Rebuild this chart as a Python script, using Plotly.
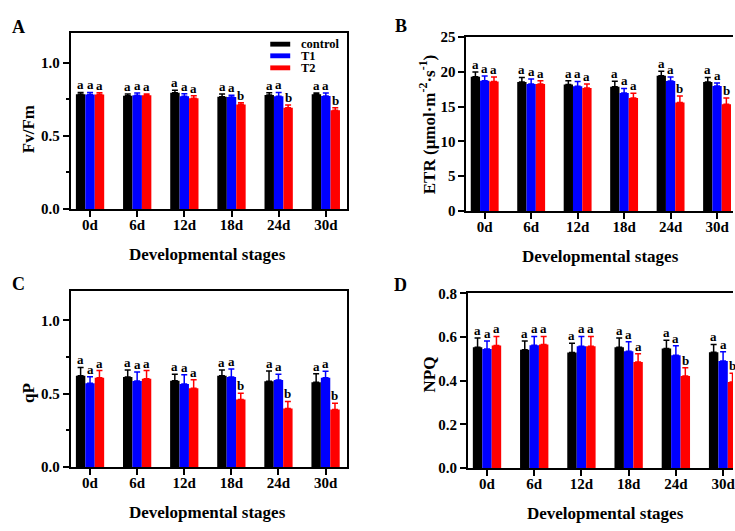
import plotly.graph_objects as go

# ---------------- data ----------------
stages = ["0d", "6d", "12d", "18d", "24d", "30d"]
groups = ["control", "T1", "T2"]
colors = ["#000000", "#0000FF", "#FF0000"]

fvfm_control = [0.783, 0.774, 0.794, 0.767, 0.778, 0.783]
fvfm_control_sd = [0.013, 0.011, 0.016, 0.018, 0.016, 0.009]
fvfm_t1 = [0.782, 0.776, 0.770, 0.765, 0.770, 0.772]
fvfm_t1_sd = [0.014, 0.016, 0.017, 0.011, 0.026, 0.020]
fvfm_t2 = [0.781, 0.776, 0.756, 0.714, 0.692, 0.674]
fvfm_t2_sd = [0.012, 0.010, 0.018, 0.011, 0.018, 0.018]
fvfm_letters = [["a"] * 6, ["a"] * 6, ["a", "a", "a", "b", "b", "b"]]

etr_control = [19.30, 18.55, 18.17, 17.85, 19.45, 18.55]
etr_control_sd = [0.70, 0.65, 0.56, 0.80, 0.65, 0.65]
etr_t1 = [18.73, 18.26, 17.93, 16.96, 18.68, 17.98]
etr_t1_sd = [0.67, 0.70, 0.70, 0.65, 0.60, 0.42]
etr_t2 = [18.60, 18.26, 17.70, 16.26, 15.61, 15.34]
etr_t2_sd = [0.66, 0.47, 0.56, 0.65, 0.93, 0.92]
etr_letters = [["a"] * 6, ["a"] * 6, ["a", "a", "a", "a", "b", "b"]]

qp_control = [0.622, 0.613, 0.588, 0.622, 0.584, 0.577]
qp_control_sd = [0.057, 0.048, 0.044, 0.039, 0.071, 0.058]
qp_t1 = [0.571, 0.586, 0.566, 0.613, 0.593, 0.608]
qp_t1_sd = [0.044, 0.062, 0.062, 0.055, 0.039, 0.044]
qp_t2 = [0.608, 0.602, 0.536, 0.460, 0.399, 0.392]
qp_t2_sd = [0.049, 0.055, 0.059, 0.043, 0.048, 0.042]
qp_letters = [["a"] * 6, ["a"] * 6, ["a", "a", "a", "b", "b", "b"]]

npq_control = [0.553, 0.542, 0.529, 0.553, 0.548, 0.530]
npq_control_sd = [0.043, 0.040, 0.043, 0.043, 0.037, 0.036]
npq_t1 = [0.545, 0.563, 0.558, 0.535, 0.517, 0.490]
npq_t1_sd = [0.037, 0.040, 0.045, 0.043, 0.043, 0.043]
npq_t2 = [0.561, 0.566, 0.558, 0.486, 0.422, 0.394]
npq_t2_sd = [0.042, 0.037, 0.045, 0.038, 0.037, 0.040]
npq_letters = [["a"] * 6, ["a"] * 6, ["a", "a", "a", "a", "b", "b"]]

# ---------------- figure ----------------
FONT = "Liberation Serif"
W, H = 735, 531
fig = go.Figure()

BAR_W = 0.2
offsets = [-BAR_W, 0.0, BAR_W]


def px_x(p):
    return p / W


def px_y(p):
    return 1 - p / H


panels = [
    dict(key="", means=[fvfm_control, fvfm_t1, fvfm_t2], sds=[fvfm_control_sd, fvfm_t1_sd, fvfm_t2_sd],
         letters=fvfm_letters, xdom=[71, 348], ydom=[26, 207.3], xr=[-0.408, 5.45], yr=[0, 1.2],
         dtick=0.5, fmt=".1f", minor=0.25, box=True),
    dict(key="2", means=[etr_control, etr_t1, etr_t2], sds=[etr_control_sd, etr_t1_sd, etr_t2_sd],
         letters=etr_letters, xdom=[467.7, 735], ydom=[30, 209.3], xr=[-0.393, 5.343], yr=[0, 25],
         dtick=5, fmt="d", minor=None, box=False),
    dict(key="3", means=[qp_control, qp_t1, qp_t2], sds=[qp_control_sd, qp_t1_sd, qp_t2_sd],
         letters=qp_letters, xdom=[71, 347.7], ydom=[291.7, 473.3], xr=[-0.408, 5.45], yr=[0, 1.2],
         dtick=0.5, fmt=".1f", minor=0.25, box=True),
    dict(key="4", means=[npq_control, npq_t1, npq_t2], sds=[npq_control_sd, npq_t1_sd, npq_t2_sd],
         letters=npq_letters, xdom=[469.3, 735], ydom=[294.3, 474.3], xr=[-0.402, 5.21], yr=[0, 0.8],
         dtick=0.2, fmt=".1f", minor=None, box=False),
]

annotations = []
for p in panels:
    xa = "x" + p["key"]
    ya = "y" + p["key"]
    for g in range(3):
        xs = [i + offsets[g] for i in range(len(stages))]
        fig.add_trace(go.Bar(
            x=xs, y=p["means"][g], width=BAR_W, name=groups[g], showlegend=False,
            marker=dict(color=colors[g], line=dict(width=0)),
            error_y=dict(type="data", array=p["sds"][g], arrayminus=[0] * len(stages), symmetric=False,
                         color=colors[g], thickness=1.5, width=3),
            xaxis=xa, yaxis=ya,
        ))
        for i in range(len(stages)):
            annotations.append(dict(
                x=xs[i], y=p["means"][g][i] + p["sds"][g][i], xref=xa, yref=ya,
                text=p["letters"][g][i], showarrow=False, yanchor="bottom", yshift=-2,
                font=dict(family=FONT, size=13, color="black", weight="bold"),
            ))
    axx = dict(
        domain=[px_x(p["xdom"][0]), px_x(p["xdom"][1])], range=p["xr"], anchor=ya,
        tickmode="array", tickvals=list(range(len(stages))), ticktext=stages,
        showline=True, linecolor="black", linewidth=2, mirror=True,
        ticks="outside", ticklen=6, tickwidth=1.5, tickcolor="black",
        ticklabeloverflow="allow", ticklabelstandoff=-5,
        showgrid=False, zeroline=False,
        tickfont=dict(family=FONT, size=15, color="black", weight="bold"),
    )
    axy = dict(
        domain=[px_y(p["ydom"][1]), px_y(p["ydom"][0])], range=p["yr"], anchor=xa,
        dtick=p["dtick"], tick0=0, tickformat=p["fmt"],
        showline=True, linecolor="black", linewidth=2, mirror=p["box"],
        ticks="outside", ticklen=6, tickwidth=1.5, tickcolor="black",
        showgrid=False, zeroline=False,
        tickfont=dict(family=FONT, size=15, color="black", weight="bold"),
    )
    if p["minor"]:
        axy["minor"] = dict(dtick=p["minor"], ticks="outside", ticklen=3, tickwidth=1.5, tickcolor="black")
    fig.layout["xaxis" + p["key"]] = axx
    fig.layout["yaxis" + p["key"]] = axy

# axis titles
y_titles = [("Fv/Fm", 28, 125), ("ETR (μmol·m<sup>-2</sup>·s<sup>-1</sup>)", 429, 120),
            ("qP", 28, 397), ("NPQ", 431, 378)]
for t, xp, yp in y_titles:
    annotations.append(dict(x=px_x(xp), y=px_y(yp), xref="paper", yref="paper", text=t, textangle=-90,
                            showarrow=False, xanchor="center", yanchor="middle",
                            font=dict(family=FONT, size=17, color="black", weight="bold")))
x_titles = [(208, 254), (602, 256.7), (208, 520), (607, 521.7)]
for xp, yp in x_titles:
    annotations.append(dict(x=px_x(xp), y=px_y(yp), xref="paper", yref="paper", text="Developmental stages",
                            showarrow=False, xanchor="center", yanchor="middle",
                            font=dict(family=FONT, size=17, color="black", weight="bold")))
# panel letters
for t, xp, yp in [("A", 18.8, 20), ("B", 401.7, 18.3), ("C", 18.8, 284.5), ("D", 401.7, 285.5)]:
    annotations.append(dict(x=px_x(xp), y=px_y(yp), xref="paper", yref="paper", text=t,
                            showarrow=False, xanchor="center", yanchor="middle",
                            font=dict(family=FONT, size=18, color="black", weight="bold")))

# legend (panel A)
shapes = []
for g, yp in zip(range(3), [37.3, 49.3, 61.7]):
    shapes.append(dict(type="rect", xref="paper", yref="paper", x0=px_x(271), x1=px_x(291),
                       y0=px_y(yp + 2.5), y1=px_y(yp - 2.5), fillcolor=colors[g], line=dict(width=0)))
    annotations.append(dict(x=px_x(301), y=px_y(yp), xref="paper", yref="paper", text=groups[g],
                            showarrow=False, xanchor="left", yanchor="middle", borderpad=0,
                            font=dict(family=FONT, size=12.5, color="black", weight="bold")))

fig.update_layout(
    width=W, height=H, margin=dict(l=0, r=0, t=0, b=0),
    paper_bgcolor="white", plot_bgcolor="white",
    barmode="overlay", showlegend=False,
    font=dict(family=FONT, color="black", weight="bold"),
    annotations=annotations, shapes=shapes,
)

fig.write_html("out.html")
